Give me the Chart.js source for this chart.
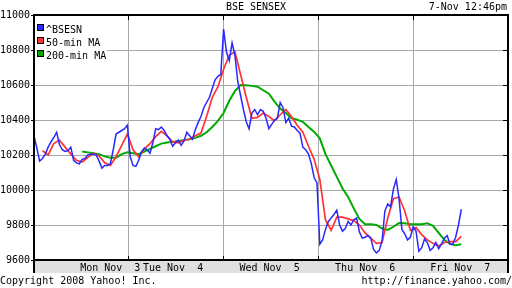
<!DOCTYPE html>
<html><head><meta charset="utf-8">
<style>html,body{margin:0;padding:0;background:#fff;}canvas{display:block;}</style>
<script src="https://cdn.jsdelivr.net/npm/chart.js@4.4.1/dist/chart.umd.min.js"></script>
</head><body><canvas id="c" width="512" height="288"></canvas>
<script>
// ---- data (minutes of trading time from Mon open; one session = 335 min) ----
const SESSION_MIN = 335;
const DAYS = 5;
const dayNames = ['Mon Nov  3','Tue Nov  4','Wed Nov  5','Thu Nov  6','Fri Nov  7'];
const dayLabelAt = [163, 385, 726, 1064, 1400];
const yTicks = [9600, 9800, 10000, 10200, 10400, 10600, 10800, 11000];
const seriesNames = ['^BSESN', '50-min MA', '200-min MA'];

const bsesnStart = 0, bsesnStep = 10;
const bsesn = [10310,10240,10165,10180,10205,10245,10275,10300,10330,10260,
 10230,10220,10225,10245,10170,10155,10150,10175,10180,10200,
 10205,10205,10200,10165,10125,10140,10140,10150,10230,10320,
 10330,10340,10350,10370,10190,10140,10135,10170,10220,10240,
 10230,10210,10270,10350,10345,10360,10340,10310,10290,10250,
 10270,10285,10255,10280,10330,10310,10290,10345,10385,10420,
 10470,10500,10530,10580,10630,10650,10660,10920,10790,10740,
 10840,10770,10620,10540,10460,10390,10350,10440,10460,10430,
 10460,10450,10410,10350,10375,10400,10410,10500,10470,10385,
 10410,10365,10360,10340,10325,10245,10230,10205,10150,10070,
 10040,9690,9715,9775,9820,9840,9860,9885,9800,9765,
 9780,9820,9800,9830,9840,9760,9725,9730,9740,9725,
 9660,9640,9655,9710,9880,9920,9905,10005,10060,9950,
 9775,9750,9715,9730,9790,9765,9650,9670,9720,9700,
 9655,9670,9700,9665,9690,9725,9740,9690,9690,9730,
 9800,9890];

const ma50Start = 30, ma50Step = 20;
const ma50 = [10225,10200,10265,10285,10245,10205,10170,10160,10185,10210,
 10195,10155,10140,10190,10255,10320,10230,10190,10235,10265,
 10305,10335,10310,10275,10270,10285,10290,10310,10325,10420,
 10530,10590,10690,10770,10790,10660,10530,10410,10415,10440,
 10420,10395,10430,10460,10420,10370,10330,10250,10175,10060,
 9830,9770,9845,9845,9835,9825,9800,9755,9725,9695,
 9700,9840,9950,9960,9880,9770,9785,9745,9715,9695,
 9680,9700,9705,9705,9735];

const ma200Start = 170, ma200Step = 20;
const ma200 = [10220,10215,10210,10205,10192,10185,10185,10205,10215,10210,
 10205,10220,10235,10250,10265,10272,10275,10280,10285,10290,
 10298,10310,10330,10360,10395,10440,10510,10565,10600,10598,
 10595,10590,10570,10550,10505,10465,10440,10410,10402,10390,
 10360,10332,10295,10205,10140,10075,10010,9960,9895,9835,
 9805,9805,9800,9780,9772,9790,9812,9810,9805,9805,
 9805,9810,9795,9755,9715,9692,9685,9690];

// ---- styles ----
const BLUE = '#2828ff', RED = '#ff3333', GREEN = '#00aa00';
const FONT = '10px "DejaVu Sans Mono", monospace';

const toXY = (arr, start, step) => arr.map((v, i) => ({x: start + i * step, y: v}));
const dayBounds = Array.from({length: DAYS + 1}, (_, d) => d * SESSION_MIN);

const deco = {
  id: 'deco',
  beforeDraw(chart) {
    const {ctx} = chart;
    ctx.save();
    ctx.fillStyle = '#fff';
    ctx.fillRect(0, 0, chart.width, chart.height);
    ctx.restore();
  },
  afterDraw(chart) {
    const {ctx, chartArea: a, scales} = chart;
    const xs = scales.x, ys = scales.y;
    ctx.save();
    // label band
    ctx.fillStyle = '#e0e0e0';
    ctx.fillRect(a.left, a.bottom + 1, a.right - a.left, 12);
    // frame
    ctx.fillStyle = '#000';
    ctx.fillRect(a.left - 1, a.top - 1, a.right - a.left + 1, 2);     // top
    ctx.fillRect(a.left - 1, a.bottom - 1, a.right - a.left + 1, 2);  // bottom axis
    ctx.fillRect(a.left - 1, a.top - 1, 2, a.bottom + 13 - a.top + 1); // left
    ctx.fillRect(a.right - 1, a.top - 1, 2, a.bottom + 13 - a.top + 1); // right
    // day tick marks (inward, top & bottom)
    for (let d = 1; d < DAYS; d++) {
      const px = Math.round(xs.getPixelForValue(dayBounds[d]) - 0.5);
      ctx.fillRect(px, a.top, 1, 5);
      ctx.fillRect(px, a.bottom - 4, 1, 4);
    }
    // right tick marks
    yTicks.forEach(v => {
      const py = Math.round(ys.getPixelForValue(v) - 0.5);
      ctx.fillRect(a.right - 5, py, 4, 1);
    });
    // band labels
    ctx.font = FONT;
    ctx.textBaseline = 'alphabetic';
    ctx.textAlign = 'left';
    ctx.fillStyle = '#000';
    dayNames.forEach((n, i) => {
      ctx.fillText(n, xs.getPixelForValue(dayLabelAt[i]), a.bottom + 10.5);
    });
    // title + stamp
    ctx.textAlign = 'center';
    ctx.fillText('BSE SENSEX', 256, 10);
    ctx.textAlign = 'right';
    ctx.fillText('7-Nov 12:46pm', 507, 10);
    // footer
    ctx.textAlign = 'left';
    ctx.fillText('Copyright 2008 Yahoo! Inc.', 0, 284);
    ctx.textAlign = 'right';
    ctx.fillText('http://finance.yahoo.com/', 512, 284);
    // legend
    ctx.fillStyle = '#fff';
    ctx.fillRect(a.left + 1, a.top + 1, 72, 44);
    const cols = [BLUE, RED, GREEN];
    seriesNames.forEach((n, i) => {
      const top = a.top + 9 + i * 13;
      ctx.fillStyle = '#000';
      ctx.fillRect(a.left + 3, top, 7, 7);
      ctx.fillStyle = cols[i];
      ctx.fillRect(a.left + 4, top + 1, 5, 5);
      ctx.fillStyle = '#000';
      ctx.textAlign = 'left';
      ctx.fillText(n, a.left + 12, top + 8.5);
    });
    ctx.restore();
  }
};

new Chart(document.getElementById('c'), {
  type: 'line',
  data: {
    datasets: [
      {label: seriesNames[0], data: toXY(bsesn, bsesnStart, bsesnStep), borderColor: BLUE, borderWidth: 1.5, pointRadius: 0, tension: 0},
      {label: seriesNames[1], data: toXY(ma50, ma50Start, ma50Step), borderColor: RED, borderWidth: 1.7, pointRadius: 0, tension: 0},
      {label: seriesNames[2], data: toXY(ma200, ma200Start, ma200Step), borderColor: GREEN, borderWidth: 2, pointRadius: 0, tension: 0}
    ]
  },
  options: {
    responsive: false, animation: false, devicePixelRatio: 1,
    layout: {padding: {top: 15, right: 4, left: 0, bottom: 0}},
    plugins: {legend: {display: false}, tooltip: {enabled: false}, title: {display: false}},
    scales: {
      x: {
        type: 'linear', min: 0, max: DAYS * SESSION_MIN,
        afterBuildTicks: s => { s.ticks = dayBounds.map(v => ({value: v})); },
        afterFit: s => { s.height = 28; },
        ticks: {display: false},
        grid: {color: '#a8a8a8', lineWidth: 1, drawTicks: false},
        border: {display: false}
      },
      y: {
        min: yTicks[0], max: yTicks[yTicks.length - 1],
        afterBuildTicks: s => { s.ticks = yTicks.map(v => ({value: v})); },
        afterFit: s => { s.width = 34; },
        ticks: {color: '#000', padding: 1, autoSkip: false, font: {family: 'DejaVu Sans Mono', size: 10},
                callback: v => String(v)},
        grid: {color: '#a8a8a8', lineWidth: 1, tickLength: 3, tickColor: '#000'},
        border: {display: false}
      }
    }
  },
  plugins: [deco]
});
</script>
</body></html>
